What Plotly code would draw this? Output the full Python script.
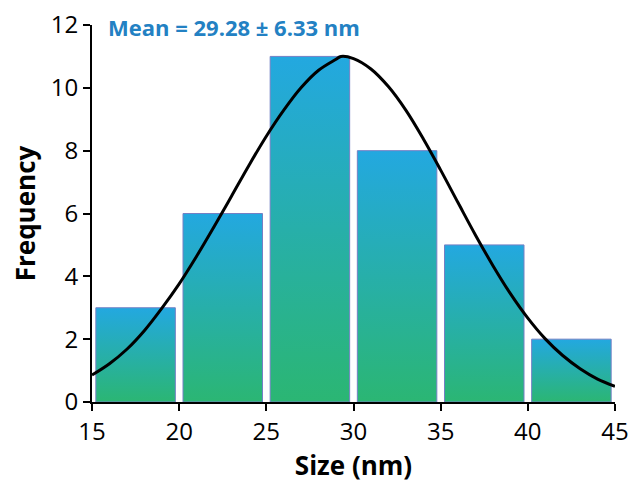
import plotly.graph_objects as go

# Histogram data
bin_left = [15, 20, 25, 30, 35, 40]
bin_right = [20, 25, 30, 35, 40, 45]
counts = [3, 6, 11, 8, 5, 2]

# Gaussian fit curve
curve_x = [15, 16, 17, 18, 19, 20, 21, 22, 23, 24, 25, 26, 27, 28, 29, 29.28, 30, 31, 32, 33, 34, 35,
           36, 37, 38, 39, 40, 41, 42, 43, 44, 45]
curve_y = [0.86, 1.22, 1.68, 2.27, 2.98, 3.76, 4.64, 5.58, 6.55, 7.53, 8.46, 9.29, 10.01, 10.56, 10.91, 11.0,
           10.93, 10.60, 10.04, 9.29, 8.38, 7.38, 6.34, 5.31, 4.34, 3.45, 2.67, 2.01, 1.48, 1.06, 0.73, 0.50]

x_ticks = [15, 20, 25, 30, 35, 40, 45]
y_ticks = [0, 2, 4, 6, 8, 10, 12]

label_text = "Mean = 29.28 ± 6.33 nm"

GAP = 0.22
fig = go.Figure()
for l, r, h in zip(bin_left, bin_right, counts):
    xl, xr = l + GAP, r - GAP
    fig.add_trace(go.Scatter(
        x=[xl, xl, xr, xr, xl], y=[0, h, h, 0, 0],
        mode="lines", fill="toself",
        line=dict(color="#7480C4", width=1),
        fillgradient=dict(type="vertical",
                          colorscale=[[0, "#2BB673"], [1, "#23A8E0"]]),
        showlegend=False, hoverinfo="skip"))

fig.add_trace(go.Scatter(x=curve_x, y=curve_y, mode="lines",
                         line=dict(color="black", width=3, shape="spline"),
                         showlegend=False))

axis_font = dict(family="Open Sans", size=24, color="black")
fig.update_layout(
    width=633, height=485,
    margin=dict(l=92, r=18, t=25, b=83),
    plot_bgcolor="white", paper_bgcolor="white",
    xaxis=dict(range=[15, 45], tickvals=x_ticks, showgrid=False, zeroline=False,
               automargin=False,
               showline=True, linecolor="black", linewidth=2,
               ticks="outside", ticklen=7, tickwidth=2, tickcolor="black",
               tickfont=axis_font,
               title=dict(text="<b>Size (nm)</b>", font=dict(family="Open Sans", size=26, color="black"),
                          standoff=8)),
    yaxis=dict(range=[0, 12], tickvals=y_ticks, showgrid=False, zeroline=False,
               automargin=False,
               showline=True, linecolor="black", linewidth=2,
               ticks="outside", ticklen=7, tickwidth=2, tickcolor="black",
               tickfont=axis_font,
               title=dict(text="<b>Frequency</b>", font=dict(family="Open Sans", size=26, color="black"),
                          standoff=8)),
    annotations=[dict(text="<b>" + label_text + "</b>", x=15.8, y=12, xref="x", yref="y",
                      xanchor="left", yanchor="top", yshift=15, showarrow=False,
                      font=dict(family="Open Sans", size=22, color="#2381C3"))],
)

fig.write_html("out.html")
